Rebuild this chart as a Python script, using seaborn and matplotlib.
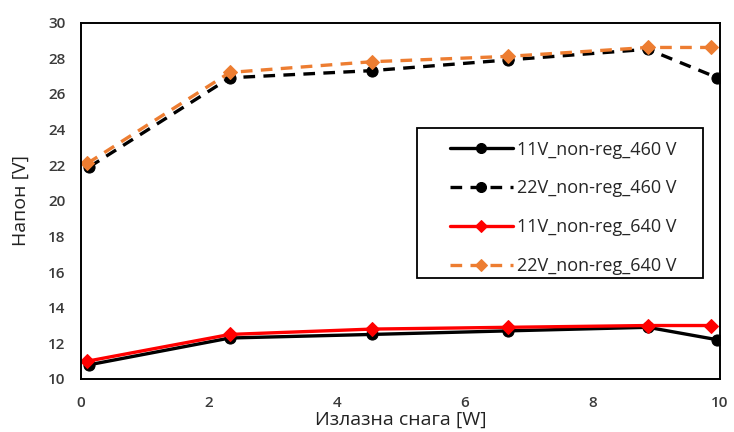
import matplotlib
matplotlib.use("Agg")
import matplotlib.pyplot as plt
from matplotlib.patches import Rectangle
import seaborn as sns
import pandas as pd

# Output power [W] at each measured operating point
power_460 = [0.13, 2.33, 4.55, 6.68, 8.87, 9.96]
power_640 = [0.1, 2.33, 4.55, 6.68, 8.87, 9.86]

# Output voltage [V] for each configuration
v11_460 = [10.8, 12.3, 12.5, 12.7, 12.9, 12.2]
v22_460 = [21.9, 26.9, 27.3, 27.9, 28.5, 26.9]
v11_640 = [11.0, 12.5, 12.8, 12.9, 13.0, 13.0]
v22_640 = [22.1, 27.2, 27.8, 28.1, 28.6, 28.6]

labels = ["11V_non-reg_460 V", "22V_non-reg_460 V",
          "11V_non-reg_640 V", "22V_non-reg_640 V"]
x_ticks = [0, 2, 4, 6, 8, 10]
y_ticks = [10, 12, 14, 16, 18, 20, 22, 24, 26, 28, 30]

sns.set_style("white")
plt.rcParams["font.family"] = ["Open Sans", "DejaVu Sans"]

fig = plt.figure(figsize=(7.34, 4.32), dpi=100)
ax = fig.add_axes([0.1104, 0.1227, 0.8706, 0.8252])

dash = (0, (3.5, 2.5))
styles = [
    (power_460, v11_460, labels[0], "black", "-", "o"),
    (power_460, v22_460, labels[1], "black", dash, "o"),
    (power_640, v11_640, labels[2], "#FF0000", "-", "D"),
    (power_640, v22_640, labels[3], "#ED7D31", dash, "D"),
]

for xs, values, label, color, ls, marker in styles:
    df = pd.DataFrame({"P": xs, "V": values})
    sns.lineplot(data=df, x="P", y="V", ax=ax, color=color, linestyle=ls,
                 linewidth=2.4, marker=marker,
                 markersize=8 if marker == "o" else 7,
                 markeredgecolor=color, markerfacecolor=color,
                 label=label, sort=False)

ax.set_xlim(0, 10)
ax.set_ylim(10, 30)
ax.set_xticks(x_ticks)
ax.set_yticks(y_ticks)
ax.tick_params(axis="both", direction="in", length=5, width=1.2,
               colors="black")
ax.tick_params(axis="x", pad=12)
ax.tick_params(axis="y", pad=11)
for lab in ax.get_xticklabels() + ax.get_yticklabels():
    lab.set_color("#3a3a3a")
    lab.set_fontsize(11)
    lab.set_fontweight("semibold")
for s in ax.spines.values():
    s.set_color("black")
    s.set_linewidth(1.4)

ax.set_xlabel("Излазна снага [W]", fontsize=14, color="#222222")
ax.xaxis.set_label_coords(0.5, -0.09)
ax.set_ylabel("Напон [V]", fontsize=14, labelpad=13, color="#222222")

# Legend entries without their own frame; the box is drawn separately
leg = ax.legend(loc="upper left", bbox_to_anchor=(0.577, 0.669),
                fontsize=13, handlelength=3.5, labelspacing=1.16,
                borderpad=0, borderaxespad=0, handletextpad=0.2,
                frameon=False, markerscale=0.9)
ax.add_patch(Rectangle((0.526, 0.283), 0.447, 0.421, transform=ax.transAxes,
                       fill=True, facecolor="white", edgecolor="black",
                       linewidth=1.3, zorder=4))
leg.set_zorder(5)

fig.savefig("out.png", dpi=100)
